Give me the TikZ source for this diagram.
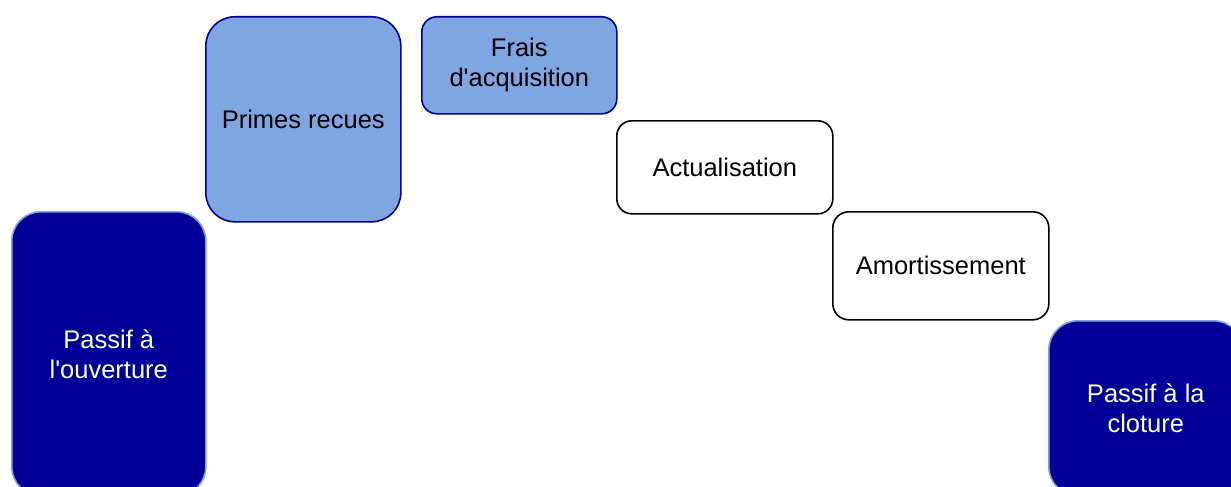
\documentclass[tikz,border=0pt]{standalone}
\usepackage{fontspec}
\setmainfont{Liberation Sans}
\usetikzlibrary{positioning}
\definecolor{navyfill}{HTML}{000099}
\definecolor{skyfill}{HTML}{7EA6E0}
\tikzset{
  box/.style={draw, line width=1.6pt, align=center, anchor=north west, inner sep=0pt,
    font=\fontsize{25.5}{30}\selectfont},
  darkbox/.style={box, fill=navyfill, draw=skyfill, text=white, rounded corners=29pt},
  lightbox/.style={box, fill=skyfill, draw=navyfill, text=black},
  plainbox/.style={box, fill=white, draw=black, text=black, rounded corners=15pt}
}

\begin{document}
\begin{tikzpicture}[x=1pt, y=-1pt]
  \useasboundingbox (0,0) rectangle (1231,487);
  \clip (0,0) rectangle (1231,487);

  % start and end of the year
  \node[darkbox, minimum width=194pt, minimum height=284pt] (pouv) at (11,211) {Passif à\\l\textquotesingle ouverture};
  \node[darkbox, minimum width=194pt, minimum height=175pt] (pclot) at (1048,320) {Passif à la\\cloture};

  % movements
  \node[lightbox, rounded corners=29pt, minimum width=195pt, minimum height=205pt] (primes) at (205,16) {Primes recues};
  \node[lightbox, rounded corners=15pt, minimum width=195pt, minimum height=97pt] (frais) at (421,16) {Frais\\d\textquotesingle acquisition};
  \node[plainbox, minimum width=216pt, minimum height=93pt] (actu) at (616,120) {Actualisation};
  \node[plainbox, rounded corners=16pt, minimum width=216pt, minimum height=108pt] (amort) at (832,211) {Amortissement};
\end{tikzpicture}
\end{document}
